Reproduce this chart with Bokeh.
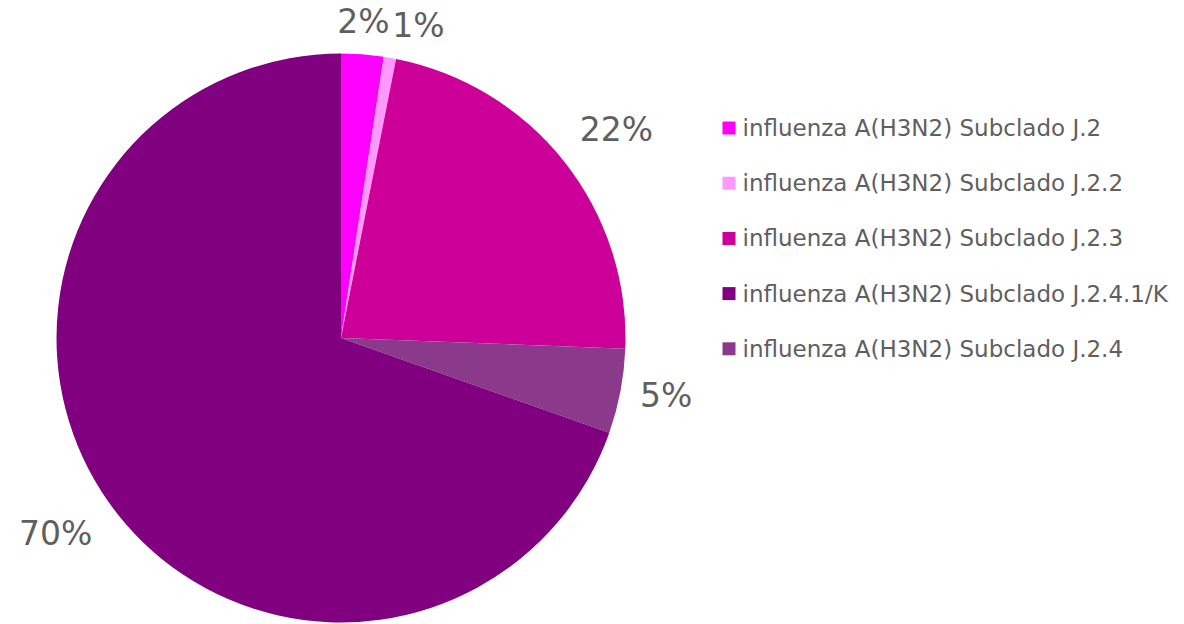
import math
from bokeh.plotting import figure
from bokeh.models import Range1d, ColumnDataSource
from bokeh.core.properties import value
from bokeh.embed import file_html
from bokeh.resources import INLINE

# ---- data (clockwise from 12 o'clock) ----
slice_names = [
    "influenza A(H3N2) Subclado J.2",
    "influenza A(H3N2) Subclado J.2.2",
    "influenza A(H3N2) Subclado J.2.3",
    "influenza A(H3N2) Subclado J.2.4",
    "influenza A(H3N2) Subclado J.2.4.1/K",
]
slice_values = [2.4, 0.7, 22.5, 4.8, 69.6]
slice_labels = ["2%", "1%", "22%", "5%", "70%"]
slice_colors = ["#FF00FF", "#FF99FF", "#CC0099", "#8B3A8B", "#800080"]

# legend order as shown in the reference
legend_names = [
    "influenza A(H3N2) Subclado J.2",
    "influenza A(H3N2) Subclado J.2.2",
    "influenza A(H3N2) Subclado J.2.3",
    "influenza A(H3N2) Subclado J.2.4.1/K",
    "influenza A(H3N2) Subclado J.2.4",
]

W, H = 1184, 624
FONT = "DejaVu Sans"
TXT = "#5f5f5f"

p = figure(width=W, height=H, output_backend="svg", toolbar_location=None,
           x_range=Range1d(0, W), y_range=Range1d(0, H),
           min_border=0, min_border_left=0, min_border_right=0,
           min_border_top=0, min_border_bottom=0)
p.axis.visible = False
p.grid.visible = False
p.outline_line_color = None
p.background_fill_color = "white"
p.border_fill_color = "white"

cx, cy, R = 340.5, 286.5, 284.5
total = sum(slice_values)
starts, ends, mids = [], [], []
cum = 0.0
for v in slice_values:
    a0 = math.pi / 2 - 2 * math.pi * cum / total
    cum += v
    a1 = math.pi / 2 - 2 * math.pi * cum / total
    starts.append(a0)
    ends.append(a1)
    mids.append((a0 + a1) / 2)

src = ColumnDataSource(dict(start=starts, end=ends, color=slice_colors,
                            x=[cx] * len(slice_values), y=[cy] * len(slice_values)))
p.wedge(x="x", y="y", radius=R, start_angle="start", end_angle="end",
        direction="clock", fill_color="color", line_color=None, source=src)

# percentage labels outside slices
lx, ly, la, lb = [], [], [], []
for m in mids:
    c, s = math.cos(m), math.sin(m)
    gap = 13 if s > 0.9 else 20
    lx.append(cx + c * (R + gap))
    ly.append(cy + s * (R + gap))
    la.append("left" if c > 0.15 else ("right" if c < -0.3 else "center"))
    lb.append("bottom" if s > 0.3 else ("top" if s < -0.3 else "middle"))
lsrc = ColumnDataSource(dict(x=lx, y=ly, t=slice_labels, a=la, b=lb))
p.text(x="x", y="y", text="t", text_align="a", text_baseline="b", source=lsrc,
       text_font=value(FONT), text_font_size="33px", text_color=TXT)

# legend
color_of = dict(zip(slice_names, slice_colors))
leg_top = 496.5
leg_step = 55.2
leg_y = [leg_top - i * leg_step for i in range(len(legend_names))]
leg_src = ColumnDataSource(dict(
    x=[728.5] * len(legend_names), tx=[742] * len(legend_names), y=leg_y,
    name=legend_names, color=[color_of[n] for n in legend_names]))
p.scatter(x="x", y="y", marker="square", size=13, fill_color="color",
          line_color=None, source=leg_src)
p.text(x="tx", y="y", text="name", text_align="left", text_baseline="middle",
       text_font=value(FONT), text_font_size="23px", text_color=TXT, source=leg_src)

open("out.html", "w").write(file_html(p, INLINE))
